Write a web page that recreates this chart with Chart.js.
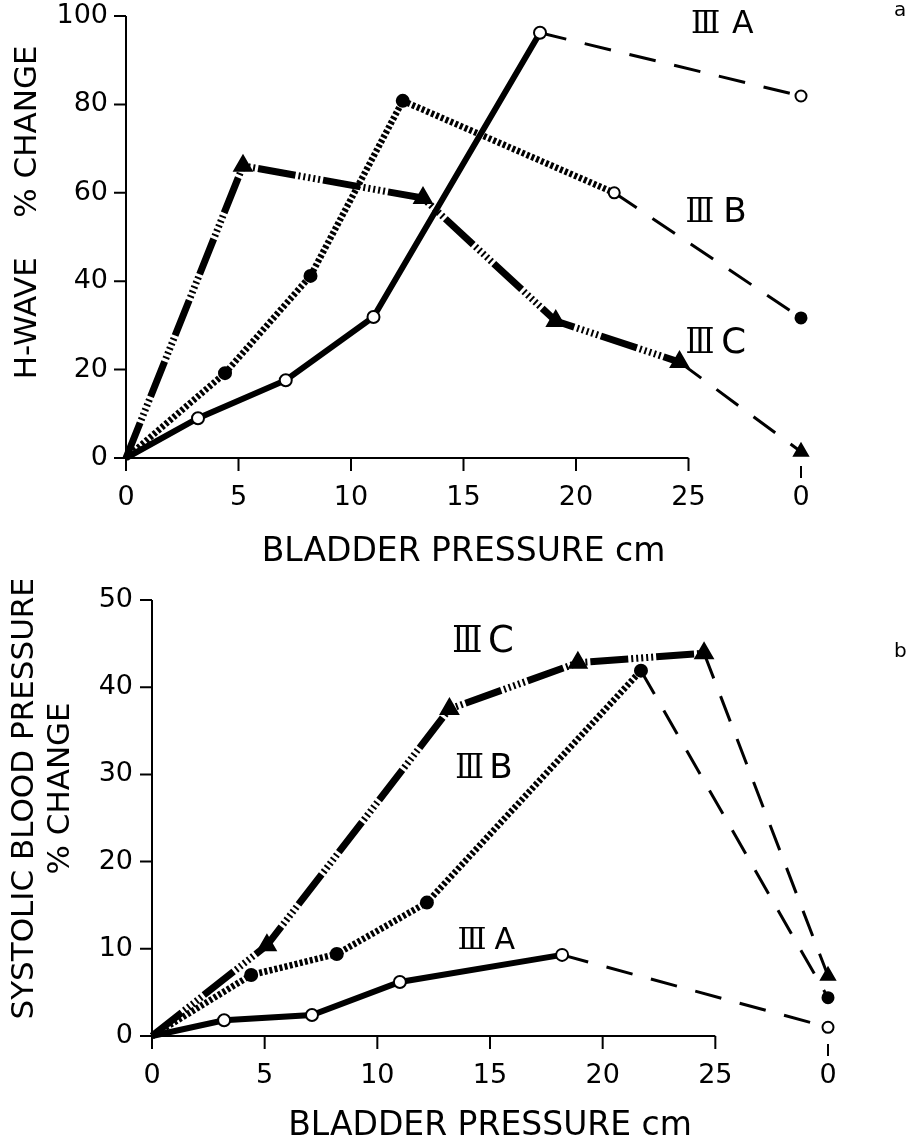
<!DOCTYPE html>
<html>
<head>
<meta charset="utf-8">
<script src="https://cdn.jsdelivr.net/npm/chart.js@4.4.1/dist/chart.umd.min.js"></script>
<style>
  html, body { margin: 0; padding: 0; background: #fff; }
  #wrap { position: relative; width: 909px; height: 1143px; background: #fff; }
  .panel { position: absolute; left: 0; width: 909px; }
  #panelA { top: 0; height: 580px; }
  #panelB { top: 580px; height: 563px; }
</style>
</head>
<body>
<div id="wrap">
  <div class="panel" id="panelA"><canvas id="chartA"></canvas></div>
  <div class="panel" id="panelB"><canvas id="chartB"></canvas></div>
</div>
<script>
// bladder pressure ticks (cm); the recovery reading "0" is plotted after 25
const pressureTicks = [0, 5, 10, 15, 20, 25];
const recoveryAt = 30;

// (a) H-wave % change
const hwaveA_pressure = [0, 3.2, 7.1, 11.0, 18.4];
const hwaveA_change = [0, 9.0, 17.6, 31.9, 96.2];
const hwaveA_recovery = 81.9;
const hwaveB_pressure = [0, 4.4, 8.2, 12.3, 21.7];
const hwaveB_change = [0, 19.2, 41.2, 80.8, 60.0];
const hwaveB_recovery = 31.7;
const hwaveC_pressure = [0, 5.2, 13.2, 19.1, 24.6];
const hwaveC_change = [0, 66.1, 58.8, 31.0, 21.7];
const hwaveC_recovery = 1.4;

// (b) systolic blood pressure % change
const sbpA_pressure = [0, 3.2, 7.1, 11.0, 18.2];
const sbpA_change = [0, 1.8, 2.4, 6.2, 9.3];
const sbpA_recovery = 1.0;
const sbpB_pressure = [0, 4.4, 8.2, 12.2, 21.7];
const sbpB_change = [0, 7.0, 9.4, 15.3, 41.9];
const sbpB_recovery = 4.4;
const sbpC_pressure = [0, 5.1, 13.2, 18.9, 24.5];
const sbpC_change = [0, 10.4, 37.5, 42.8, 43.9];
const sbpC_recovery = 6.9;

const FONT = "'DejaVu Sans', sans-serif";

// line looks for the three groups
const styleA = { width: 6, dash: [], point: 'circle', radius: 6, recRadius: 5.5, fill: '#fff' };
const styleB = { width: 6.5, dash: [3, 2.2], point: 'circle', radius: 6, recRadius: 5.5, fill: '#000' };
const styleC = { width: 7, dash: [38, 3, 2, 3, 2, 3, 2, 3, 2, 3, 2, 3], point: 'triangle', radius: 10, recRadius: 8, fill: '#000' };

function seriesDatasets(pressure, change, recovery, style, openLast) {
    const main = pressure.map((p, i) => ({x: p, y: change[i]}));
    const last = main[main.length - 1];
    const fills = main.map((_, i) => (openLast && i === main.length - 1) ? '#fff' : style.fill);
    const radii = main.map((_, i) => i === 0 ? 0 : (openLast && i === main.length - 1) ? 5.5 : style.radius);
    return [{
        data: main,
        showLine: true,
        tension: 0,
        clip: false,
        borderColor: '#000',
        borderWidth: style.width,
        borderDash: style.dash,
        borderCapStyle: 'butt',
        pointStyle: style.point,
        pointRadius: radii,
        pointBackgroundColor: fills,
        pointBorderColor: '#000',
        pointBorderWidth: 2
    }, {
        data: [last, {x: recoveryAt, y: recovery}],
        showLine: true,
        tension: 0,
        clip: false,
        borderColor: '#000',
        borderWidth: 3,
        borderDash: [27, 19],
        borderCapStyle: 'butt',
        pointStyle: style.point,
        pointRadius: [0, style.recRadius],
        pointBackgroundColor: style.fill,
        pointBorderColor: '#000',
        pointBorderWidth: 2
    }];
}

// axes drawn like the paper figure: x axis stops at 25, separate tick for recovery
const paperAxes = {
    id: 'paperAxes',
    beforeDatasetsDraw(chart) {
        const {ctx, scales: {x, y}} = chart;
        const x0 = x.getPixelForValue(0), y0 = y.getPixelForValue(0);
        ctx.save();
        ctx.strokeStyle = '#000';
        ctx.lineWidth = 2;
        ctx.beginPath();
        ctx.moveTo(x0, y.getPixelForValue(y.max));
        ctx.lineTo(x0, y0);
        y.ticks.forEach(t => {
            const p = y.getPixelForValue(t.value);
            ctx.moveTo(x0 - 12, p);
            ctx.lineTo(x0, p);
        });
        ctx.moveTo(x0, y0);
        ctx.lineTo(x.getPixelForValue(pressureTicks[pressureTicks.length - 1]), y0);
        pressureTicks.forEach(v => {
            const p = x.getPixelForValue(v);
            ctx.moveTo(p, y0);
            ctx.lineTo(p, y0 + 13);
        });
        const r = x.getPixelForValue(recoveryAt);
        ctx.moveTo(r, y0 + 8);
        ctx.lineTo(r, y0 + 20);
        ctx.stroke();
        ctx.restore();
    }
};

// group names (roman numeral + letter) and panel letter
const groupLabels = {
    id: 'groupLabels',
    afterDraw(chart, args, opts) {
        const {ctx, scales: {x, y}} = chart;
        ctx.save();
        ctx.fillStyle = '#000';
        ctx.textBaseline = 'alphabetic';
        ctx.textAlign = 'left';
        (opts.labels || []).forEach(l => {
            const left = x.getPixelForValue(l.x), mid = y.getPixelForValue(l.y);
            const base = mid + l.h / 2;
            // roman numeral, squeezed to the hand-lettered width
            ctx.font = (l.h / 0.73).toFixed(1) + "px 'DejaVu Serif'";
            const m = ctx.measureText('Ⅲ');
            const inkW = m.actualBoundingBoxRight + m.actualBoundingBoxLeft;
            const sx = 27 / inkW;
            ctx.save();
            ctx.translate(left, base);
            ctx.scale(sx, 1);
            ctx.fillText('Ⅲ', m.actualBoundingBoxLeft, 0);
            ctx.restore();
            ctx.font = (l.h / 0.73).toFixed(1) + 'px ' + FONT;
            const lm = ctx.measureText(l.letter);
            ctx.fillText(l.letter, left + 27 + l.gap + lm.actualBoundingBoxLeft, base);
        });
        if (opts.panel) {
            ctx.font = '20px ' + FONT;
            ctx.textBaseline = 'middle';
            ctx.fillText(opts.panel.text, opts.panel.left, opts.panel.top);
        }
        ctx.restore();
    }
};

function pressureChart(id, datasets, yMax, yStep, yTitle, geo, labels, panel) {
    const config = {
        type: 'scatter',
        data: { datasets: datasets },
        options: {
            responsive: true,
            maintainAspectRatio: false,
            animation: false,
            layout: { padding: { top: geo.top, right: geo.right, left: 0, bottom: 0 } },
            plugins: {
                legend: { display: false },
                tooltip: { enabled: false },
                groupLabels: { labels: labels, panel: panel }
            },
            scales: {
                x: {
                    type: 'linear',
                    min: 0,
                    max: recoveryAt,
                    afterBuildTicks: s => { s.ticks = pressureTicks.concat(recoveryAt).map(v => ({value: v})); },
                    afterFit: s => { s.height = geo.xHeight; s.paddingLeft = 0; s.paddingRight = 0; },
                    grid: { display: false },
                    border: { display: false },
                    ticks: {
                        callback: v => v === recoveryAt ? '0' : String(v),
                        font: { family: FONT, size: 27 },
                        color: '#000',
                        padding: 16,
                        maxRotation: 0,
                        autoSkip: false
                    },
                    title: {
                        display: true,
                        text: 'BLADDER PRESSURE cm',
                        color: '#000',
                        font: { family: FONT, size: 33, lineHeight: 1 },
                        padding: { top: 0, bottom: geo.titleBottom }
                    }
                },
                y: {
                    min: 0,
                    max: yMax,
                    afterFit: s => { s.width = geo.yWidth; s.paddingTop = 0; s.paddingBottom = 0; },
                    grid: { display: false },
                    border: { display: false },
                    ticks: {
                        stepSize: yStep,
                        font: { family: FONT, size: 27 },
                        color: '#000',
                        padding: geo.tickPad
                    },
                    title: {
                        display: true,
                        text: yTitle,
                        color: '#000',
                        font: { family: FONT, size: 31, lineHeight: 1.16 },
                        padding: { top: geo.titleLeft, bottom: 0 }
                    }
                }
            }
        },
        plugins: [paperAxes, groupLabels]
    };

    let ctx = document.getElementById(id).getContext('2d')
    new Chart(ctx, config)
}

pressureChart('chartA',
    [].concat(
        seriesDatasets(hwaveA_pressure, hwaveA_change, hwaveA_recovery, styleA, false),
        seriesDatasets(hwaveB_pressure, hwaveB_change, hwaveB_recovery, styleB, true),
        seriesDatasets(hwaveC_pressure, hwaveC_change, hwaveC_recovery, styleC, false)
    ),
    100, 20,
    '     H-WAVE    % CHANGE',
    { top: 16, right: 108, xHeight: 122, yWidth: 126, tickPad: 10, titleBottom: 11, titleLeft: 10 },
    [
        { letter: 'A', x: 25.15, y: 98.8, h: 23, gap: 13 },
        { letter: 'B', x: 24.9, y: 56.2, h: 25, gap: 13 },
        { letter: 'C', x: 24.9, y: 26.7, h: 26, gap: 10 }
    ],
    { text: 'a', left: 894, top: 11 }
);

pressureChart('chartB',
    [].concat(
        seriesDatasets(sbpA_pressure, sbpA_change, sbpA_recovery, styleA, false),
        seriesDatasets(sbpB_pressure, sbpB_change, sbpB_recovery, styleB, false),
        seriesDatasets(sbpC_pressure, sbpC_change, sbpC_recovery, styleC, false)
    ),
    50, 10,
    ['    SYSTOLIC BLOOD PRESSURE', '      % CHANGE'],
    { top: 20, right: 81, xHeight: 107, yWidth: 152, tickPad: 11, titleBottom: 0, titleLeft: 7 },
    [
        { letter: 'C', x: 13.4, y: 45.6, h: 27, gap: 9 },
        { letter: 'B', x: 13.5, y: 31.0, h: 25, gap: 9 },
        { letter: 'A', x: 13.6, y: 11.2, h: 22, gap: 9 }
    ],
    { text: 'b', left: 894, top: 72 }
);
</script>
</body>
</html>
